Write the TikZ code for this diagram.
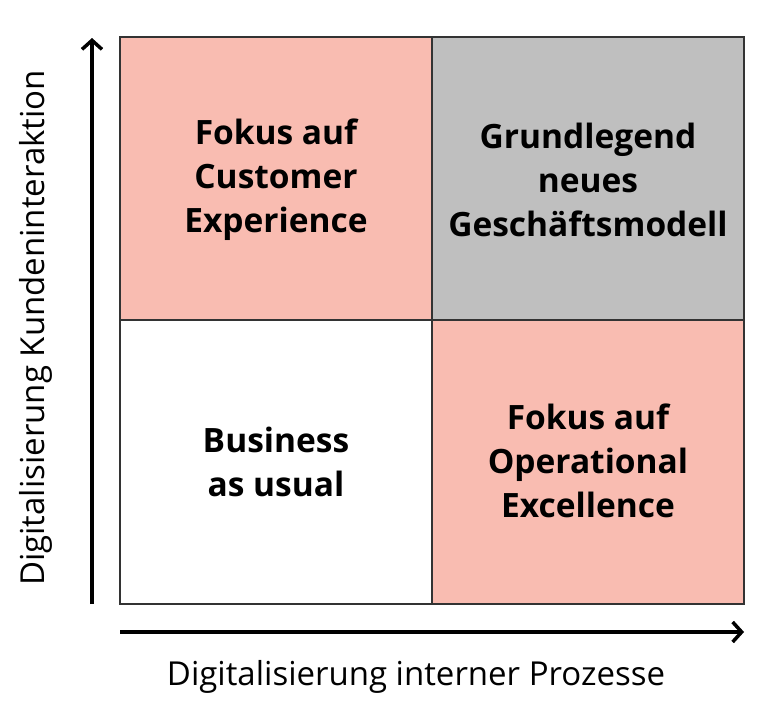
\documentclass[tikz,border=0pt]{standalone}
\usepackage{fontspec}
\setmainfont{Open Sans}
\usetikzlibrary{arrows.meta}
\definecolor{pinkq}{HTML}{F9BCB1}
\definecolor{grayq}{HTML}{BFBFBF}
\definecolor{gridline}{HTML}{333333}
\tikzset{
  quad/.style={draw=gridline, line width=1.3pt},
  qlabel/.style={font=\bfseries\fontsize{33.5}{44}\selectfont, align=center, text=black},
  axis/.style={line width=3.5pt, -{Straight Barb[length=9pt,width=20pt,line width=3.5pt]}},
  axlabel/.style={font=\fontsize{33}{38}\selectfont}
}
\begin{document}
\begin{tikzpicture}[x=1pt,y=-1pt]
\useasboundingbox (0,0) rectangle (761,720);
\fill[pinkq] (120,37) rectangle (432,320);
\fill[grayq] (432,37) rectangle (744,320);
\fill[white] (120,320) rectangle (432,604);
\fill[pinkq] (432,320) rectangle (744,604);
\draw[quad] (120,37) rectangle (744,604);
\draw[quad] (432,37) -- (432,604);
\draw[quad] (120,320) -- (744,320);
\node[qlabel] (tl) at (276,180) {Fokus auf\\Customer\\Experience};
\node[qlabel] (tr) at (588,180) {Grundlegend\\neues\\Geschäftsmodell};
\node[qlabel] (bl) at (276,462) {Business\\as usual};
\node[qlabel] (br) at (588,461) {Fokus auf\\Operational\\Excellence};
\coordinate (ys) at (92,604);
\coordinate (ye) at (92,38);
\coordinate (xs) at (120,632);
\coordinate (xe) at (744,632);
\draw[axis] (ys) -- (ye);
\draw[axis] (xs) -- (xe);
\node[axlabel] (xl) at (416,677) {Digitalisierung interner Prozesse};
\node[axlabel, rotate=90] (yl) at (36,328) {Digitalisierung Kundeninteraktion};
\end{tikzpicture}
\end{document}
